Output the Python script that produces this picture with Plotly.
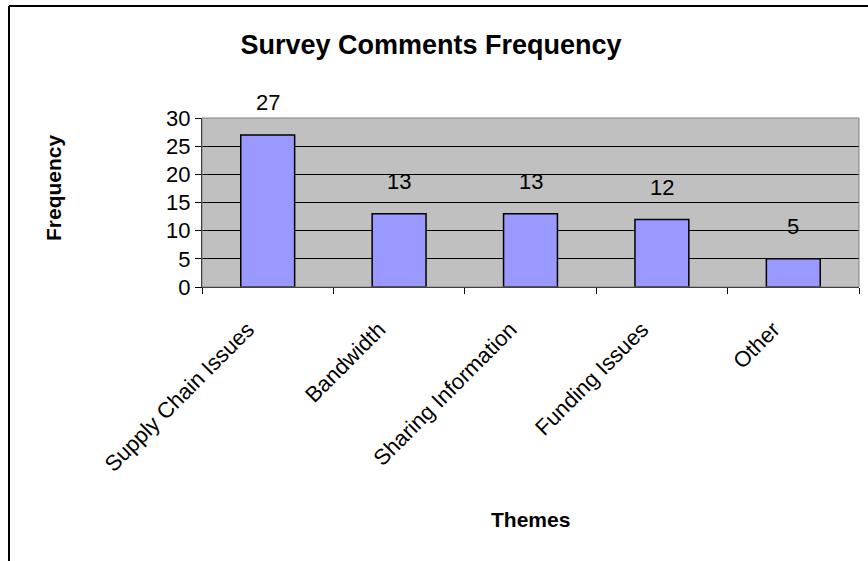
import plotly.graph_objects as go

categories = ["Supply Chain Issues", "Bandwidth", "Sharing Information", "Funding Issues", "Other"]
values = [27, 13, 13, 12, 5]
y_ticks = [0, 5, 10, 15, 20, 25, 30]

W, H = 868, 561
L, R, T, B = 202, 859, 118, 287
pw, ph = R - L, B - T

def px2x(px):
    return (px - L) / pw

def py2y(py):
    return (B - py) / ph

FONT = "Liberation Sans, Arial, sans-serif"

fig = go.Figure()
fig.add_trace(go.Bar(
    x=categories, y=values,
    marker=dict(color="#9999FF", line=dict(color="black", width=1.5)),
    width=0.41,
))

annotations = []
for c, v in zip(categories, values):
    annotations.append(dict(x=c, y=v, xref="x", yref="y", text=str(v), showarrow=False,
                            yshift=32, font=dict(size=22, color="black", family=FONT)))
annotations.append(dict(x=px2x(530), y=py2y(519), xref="paper", yref="paper", text="<b>Themes</b>",
                        xanchor="center", yanchor="middle",
                        showarrow=False, font=dict(size=21, color="black", family=FONT)))
annotations.append(dict(x=px2x(53), y=py2y(188), xref="paper", yref="paper", text="<b>Frequency</b>",
                        xanchor="center", yanchor="middle",
                        showarrow=False, textangle=-90, font=dict(size=21, color="black", family=FONT)))

shapes = [
    dict(type="rect", xref="paper", yref="paper", x0=0, x1=1, y0=0, y1=1,
         line=dict(color="#808080", width=1), layer="above"),
    dict(type="line", xref="paper", yref="paper", x0=px2x(9), x1=px2x(9), y0=py2y(6), y1=py2y(570),
         line=dict(color="black", width=2)),
    dict(type="line", xref="paper", yref="paper", x0=px2x(9), x1=px2x(875), y0=py2y(6), y1=py2y(6),
         line=dict(color="black", width=2)),
]

fig.update_layout(
    width=W, height=H,
    margin=dict(l=L, r=W - R, t=T, b=H - B),
    paper_bgcolor="white", plot_bgcolor="#C0C0C0",
    showlegend=False,
    title=dict(text="<b>Survey Comments Frequency</b>", x=431 / W, xanchor="center",
               y=1 - 45 / H, yanchor="middle", font=dict(size=27, color="black", family=FONT)),
    xaxis=dict(type="category", tickson="boundaries", ticks="outside", ticklen=6, tickcolor="black",
               tickangle=-45, showgrid=False, showline=True, linecolor="black", linewidth=1,
               ticklabelstandoff=20, ticklabelshift=-20,
               tickfont=dict(size=22, color="black", family=FONT), range=[-0.5, 4.5]),
    yaxis=dict(range=[0, 30], tickvals=y_ticks, ticks="outside", ticklen=6, tickcolor="black",
               showgrid=True, gridcolor="black", gridwidth=1, showline=True, linecolor="black",
               linewidth=1, zeroline=False, tickfont=dict(size=22, color="black", family=FONT)),
    annotations=annotations, shapes=shapes,
    bargap=0.59,
)

fig.write_html("out.html", config={"displayModeBar": False},
               post_script="document.body.style.margin='0px';")
